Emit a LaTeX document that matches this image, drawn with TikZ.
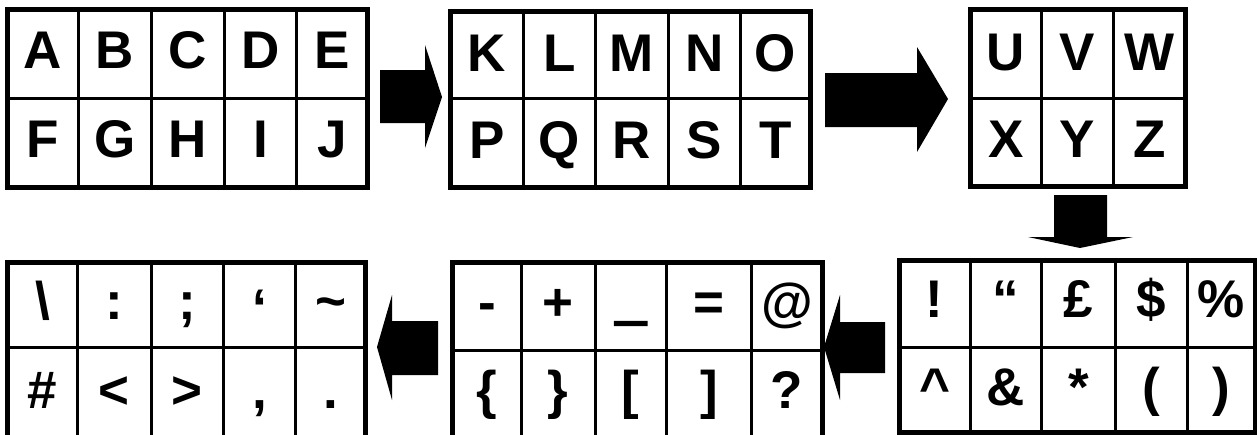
\documentclass[tikz,border=0pt]{standalone}
\usepackage{fontspec}
\setmainfont{Liberation Sans}
\newfontface\usfont[FakeBold=6]{Liberation Sans Bold}
\begin{document}
\begin{tikzpicture}[x=1pt,y=-1pt,
  frame/.style={draw=black, line width=5pt, inner sep=0pt, outer sep=0pt, fill=none},
  inner/.style={draw=black, line width=3pt},
  ch/.style={font=\fontsize{53}{60}\selectfont\bfseries, inner sep=0pt, anchor=base},
  blockarrow/.style={fill=black, draw=none}]
\useasboundingbox (0,0) rectangle (1257,434);

% ---------- Grid 1 : A-J ----------
\node[frame, minimum width=360pt, minimum height=178pt] (g1) at (187.5,98) {};
\foreach \x in {78.5,151.5,224.5,296.5} \draw[inner] (\x,9) -- (\x,187);
\draw[inner] (7.5,98.5) -- (367.5,98.5);
\node[ch] (cA) at (43,68) {A};
\node[ch] (cB) at (115,68) {B};
\node[ch] (cC) at (188,68) {C};
\node[ch] (cD) at (260.5,68) {D};
\node[ch] (cE) at (332,68) {E};
\node[ch] (cF) at (43,157) {F};
\node[ch] (cG) at (115,157) {G};
\node[ch] (cH) at (188,157) {H};
\node[ch] (cI) at (260.5,157) {I};
\node[ch] (cJ) at (332,157) {J};

% ---------- Grid 2 : K-T ----------
\node[frame, minimum width=360pt, minimum height=176pt] (g2) at (630.5,99) {};
\foreach \x in {523.5,595.5,668.5,740} \draw[inner] (\x,11) -- (\x,187);
\draw[inner] (450.5,98.5) -- (810.5,98.5);
\node[ch] (cK) at (487,71) {K};
\node[ch] (cL) at (559.5,71) {L};
\node[ch] (cM) at (632,71) {M};
\node[ch] (cN) at (704.25,71) {N};
\node[ch] (cO) at (775.25,71) {O};
\node[ch] (cP) at (487,158) {P};
\node[ch] (cQ) at (559.5,158) {Q};
\node[ch] (cR) at (632,158) {R};
\node[ch] (cS) at (704.25,158) {S};
\node[ch] (cT) at (775.25,158) {T};

% ---------- Grid 3 : U-Z ----------
\node[frame, minimum width=215pt, minimum height=177pt] (g3) at (1078,98) {};
\foreach \x in {1041.5,1113.5} \draw[inner] (\x,9.5) -- (\x,186.5);
\draw[inner] (970.5,98.5) -- (1185.5,98.5);
\node[ch] (cU) at (1006,70) {U};
\node[ch] (cV) at (1077.5,70) {V};
\node[ch] (cW) at (1149.5,70) {W};
\node[ch] (cX) at (1006,157) {X};
\node[ch] (cY) at (1077.5,157) {Y};
\node[ch] (cZ) at (1149.5,157) {Z};

% ---------- Grid 4 ----------
\node[frame, minimum width=358pt, minimum height=175.5pt] (g4) at (186.5,350.25) {};
\foreach \x in {77.5,151,223.5,295.5} \draw[inner] (\x,262.5) -- (\x,438);
\draw[inner] (7.5,347.5) -- (365.5,347.5);
\node[ch] (s41) at (42.5,319) {\textbackslash};
\node[ch] (s42) at (114.25,319) {:};
\node[ch] (s43) at (187.25,319) {;};
\node[ch] (s44) at (259.5,326) {‘};
\node[ch] (s45) at (330.5,319) {\textasciitilde};
\node[ch] (s46) at (42.5,408) {\#};
\node[ch] (s47) at (114.25,408) {<};
\node[ch] (s48) at (187.25,408) {>};
\node[ch] (s49) at (259.5,408) {,};
\node[ch] (s410) at (330.5,408) {.};

% ---------- Grid 5 ----------
\node[frame, minimum width=370pt, minimum height=175.5pt] (g5) at (637.5,350.25) {};
\foreach \x in {521.5,595,666.5,751.5} \draw[inner] (\x,262.5) -- (\x,438);
\draw[inner] (452.5,350) -- (822.5,350);
\node[ch] (s51) at (487,320) {-};
\node[ch] (s52) at (558.25,320) {+};
\node[ch] (s53) at (630.75,318) {\usfont\char"5F};
\node[ch] (s54) at (709,320) {=};
\node[ch] (s55) at (787,320) {@};
\node[ch] (s56) at (487,408) {\{};
\node[ch] (s57) at (558.25,408) {\}};
\node[ch] (s58) at (630.75,408) {[};
\node[ch] (s59) at (709,408) {]};
\node[ch] (s510) at (787,408) {?};

% ---------- Grid 6 ----------
\node[frame, minimum width=355.5pt, minimum height=171.5pt] (g6) at (1077.25,346.25) {};
\foreach \x in {970,1041.5,1115.5,1187.5} \draw[inner] (\x,260.5) -- (\x,432);
\draw[inner] (899.5,347) -- (1255,347);
\node[ch] (s61) at (934.75,317.5) {!};
\node[ch] (s62) at (1005.75,317.5) {“};
\node[ch] (s63) at (1078.5,317.5) {£};
\node[ch] (s64) at (1151.5,317.5) {\$};
\node[ch] (s65) at (1221.25,317.5) {\%};
\node[ch] (s66) at (934.75,405) {\textasciicircum};
\node[ch] (s67) at (1005.75,405) {\&};
\node[ch] (s68) at (1078.5,405) {*};
\node[ch] (s69) at (1151.5,405) {(};
\node[ch] (s610) at (1221.25,405) {)};

% ---------- Block arrows ----------
\fill[blockarrow] (380,70) -- (425,70) -- (425,45) -- (442,97) -- (425,148) -- (425,123) -- (380,123) -- cycle;
\fill[blockarrow] (825,73) -- (917,73) -- (917,47) -- (948,99) -- (917,152) -- (917,127) -- (825,127) -- cycle;
\fill[blockarrow] (1054,195) -- (1107,195) -- (1107,237) -- (1133,237) -- (1080,248) -- (1028,237) -- (1054,237) -- cycle;
\fill[blockarrow] (885,322) -- (840,322) -- (840,295) -- (824,347) -- (840,400) -- (840,373) -- (885,373) -- cycle;
\fill[blockarrow] (438,321) -- (392,321) -- (392,295) -- (377,347) -- (392,400) -- (392,375) -- (438,375) -- cycle;
\end{tikzpicture}
\end{document}
